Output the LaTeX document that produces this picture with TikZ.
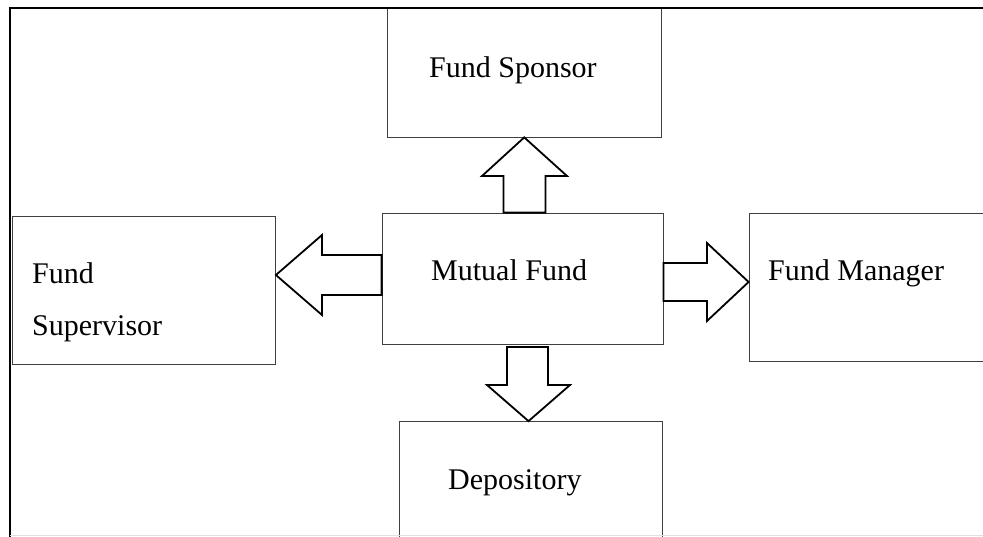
\documentclass[tikz,border=0pt]{standalone}
\usepackage{fontspec}
\setmainfont{Liberation Serif}

\tikzset{
  box/.style={draw=black!75, line width=0.8pt, rectangle, inner sep=0pt},
  blockarrow/.style={draw=black, fill=white, line width=1.8pt, line join=miter},
  boxtext/.style={inner sep=0pt, anchor=base west, font=\fontsize{30}{36}\selectfont}
}

\begin{document}
\begin{tikzpicture}[x=1pt,y=-1pt]
        \useasboundingbox (0,0) rectangle (983,536);
        % boxes
        \node[box, minimum width=273.5pt, minimum height=129pt] (sponsor) at (524.25,72.5) {};
        \node[box, minimum width=281pt, minimum height=131pt] (mf) at (522.5,278.5) {};
        \node[box, minimum width=263pt, minimum height=148pt] (supervisor) at (144,290) {};
        \node[box, minimum width=251pt, minimum height=148pt] (manager) at (874.5,287) {};
        \node[box, minimum width=263.5pt, minimum height=138.5pt] (depository) at (530.75,490.75) {};
        % texts
        \node[boxtext] (sponsortext) at (429,77) {Fund Sponsor};
        \node[boxtext] (mftext) at (431,280) {Mutual Fund};
        \node[boxtext] (managertext) at (768,280) {Fund Manager};
        \node[boxtext] (supervisortext1) at (32,283) {Fund};
        \node[boxtext] (supervisortext2) at (32,335) {Supervisor};
        \node[boxtext] (depositorytext) at (448,489) {Depository};
        % block arrows
        \draw[blockarrow] (503.5,0 |- mf.north) -- (503.5,176) -- (482,176) -- (sponsor.south)
            -- (567,176) -- (545.5,176) -- (545.5,0 |- mf.north) -- cycle;
        \draw[blockarrow] (mf.west |- 0,255) -- (322,255) -- (322,235) -- (supervisor.east |- 0,275)
            -- (322,315) -- (322,295) -- (mf.west |- 0,295) -- cycle;
        \draw[blockarrow] (mf.east |- 0,263) -- (707,263) -- (707,243) -- (manager.west |- 0,282)
            -- (707,321) -- (707,301) -- (mf.east |- 0,301) -- cycle;
        \draw[blockarrow] (507,347) -- (507,385) -- (487,385) -- (528.5,0 |- depository.north)
            -- (570,385) -- (548,385) -- (548,347) -- cycle;
        % outer frame
        \draw[line width=2pt] (10,540) -- (10,8) -- (990,8);
        \draw[black!12] (10,535) -- (990,535);
\end{tikzpicture}
\end{document}
